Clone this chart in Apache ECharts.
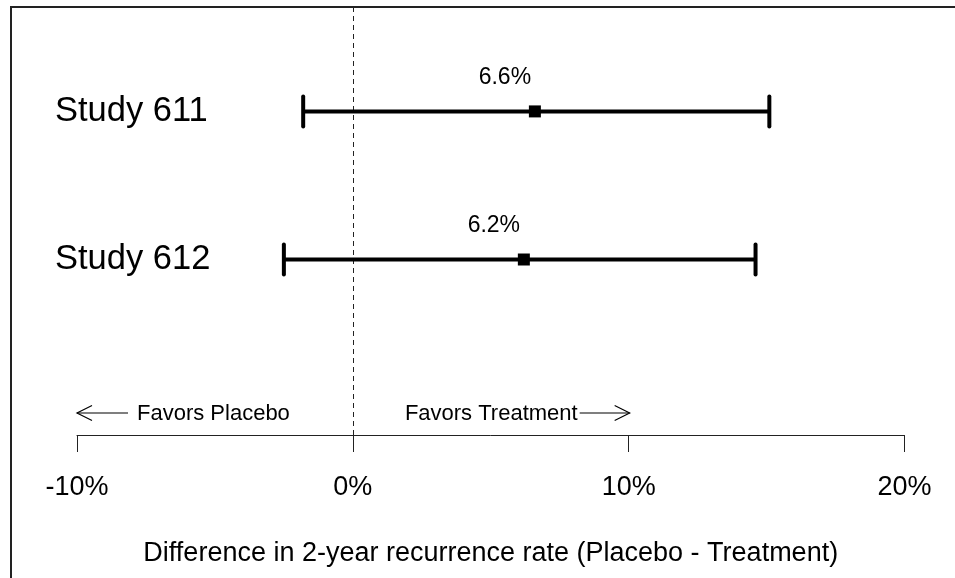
<!DOCTYPE html>
<html>
<head>
<meta charset="utf-8">
<script src="https://cdn.jsdelivr.net/npm/echarts@6/dist/echarts.min.js"></script>
<style>
html,body{margin:0;padding:0;background:#fff;}
#chart{width:955px;height:578px;}
</style>
</head>
<body>
<div id="chart"></div>
<script>
// ---- data ----
const categories = ['Study 611', 'Study 612'];
const rows = [1, 2];
const estimates = [6.6, 6.2];
const lowerCI = [-1.8, -2.5];
const upperCI = [15.1, 14.6];
const xTicks = [-10, 0, 10, 20];
const favorsLeft = 'Favors Placebo';
const favorsRight = 'Favors Treatment';
const axisTitle = 'Difference in 2-year recurrence rate (Placebo - Treatment)';

const FONT = '"Liberation Sans", Arial, sans-serif';
const chart = echarts.init(document.getElementById('chart'), null, {renderer: 'canvas'});

const barData = categories.map((c, i) => [lowerCI[i], estimates[i], upperCI[i], rows[i], c]);

function renderBar(params, api) {
  const lo = api.coord([api.value(0), api.value(3)]);
  const est = api.coord([api.value(1), api.value(3)]);
  const hi = api.coord([api.value(2), api.value(3)]);
  const left = api.coord([xTicks[0], api.value(3)]);
  const y = est[1];
  const cap = 15;
  const lw = 4;
  const label = categories[params.dataIndex];
  const estText = estimates[params.dataIndex].toFixed(1) + '%';
  return {
    type: 'group',
    children: [
      {type: 'line', shape: {x1: lo[0], y1: y, x2: hi[0], y2: y}, style: {stroke: '#000', lineWidth: lw}},
      {type: 'line', shape: {x1: lo[0], y1: y - cap, x2: lo[0], y2: y + cap}, style: {stroke: '#000', lineWidth: lw, lineCap: 'round'}},
      {type: 'line', shape: {x1: hi[0], y1: y - cap, x2: hi[0], y2: y + cap}, style: {stroke: '#000', lineWidth: lw, lineCap: 'round'}},
      {type: 'rect', shape: {x: est[0] - 6, y: y - 6, width: 12, height: 12}, style: {fill: '#000'}},
      {type: 'text', x: est[0] - 30, y: y - 34, style: {text: estText, font: '23px ' + FONT, fill: '#000', align: 'center', verticalAlign: 'middle'}},
      {type: 'text', x: left[0] - 22, y: y, style: {text: label, font: '34.5px ' + FONT, fill: '#000', align: 'left', verticalAlign: 'middle'}}
    ]
  };
}

function renderAnnot(params, api) {
  const cs = params.coordSys;
  const y = cs.y + cs.height - 22;
  const xl = api.coord([xTicks[0], 1])[0];
  const xr = api.coord([xTicks[2], 1])[0] + 1;
  const st = {stroke: '#000', lineWidth: 1.2};
  const ah = 15, aw = 7.5;
  const lTail = xl + 51;
  const rTail = xr - 50;
  return {
    type: 'group',
    children: [
      {type: 'line', shape: {x1: xl, y1: y, x2: lTail, y2: y}, style: st},
      {type: 'polyline', shape: {points: [[xl + ah, y - aw], [xl, y], [xl + ah, y + aw]]}, style: Object.assign({fill: 'none'}, st)},
      {type: 'text', x: lTail + 9, y: y + 1, style: {text: favorsLeft, font: '22px ' + FONT, fill: '#000', align: 'left', verticalAlign: 'middle'}},
      {type: 'line', shape: {x1: rTail, y1: y, x2: xr, y2: y}, style: st},
      {type: 'polyline', shape: {points: [[xr - ah, y - aw], [xr, y], [xr - ah, y + aw]]}, style: Object.assign({fill: 'none'}, st)},
      {type: 'text', x: rTail - 2, y: y + 1, style: {text: favorsRight, font: '22px ' + FONT, fill: '#000', align: 'right', verticalAlign: 'middle'}}
    ]
  };
}

chart.setOption({
  animation: false,
  backgroundColor: '#fff',
  graphic: [{
    type: 'rect', x: 0, y: 0, shape: {x: 11, y: 7, width: 1200, height: 1000},
    style: {fill: 'none', stroke: '#222', lineWidth: 2}, silent: true, z: -1
  }],
  grid: {left: 77, right: 50.5, top: 7, bottom: 143, containLabel: false},
  xAxis: {
    type: 'value', min: xTicks[0], max: xTicks[xTicks.length - 1], interval: 10,
    axisLine: {show: true, lineStyle: {color: '#222', width: 1}},
    axisTick: {show: true, inside: false, length: 17, lineStyle: {color: '#222', width: 1}},
    axisLabel: {formatter: v => v + '%', fontSize: 27, fontFamily: FONT, color: '#000', margin: 39},
    splitLine: {show: false},
    name: axisTitle, nameLocation: 'middle', nameGap: 105,
    nameTextStyle: {fontSize: 27, fontFamily: FONT, color: '#000'}
  },
  yAxis: {
    type: 'value', inverse: true, min: 0.295, max: 3.185, show: false, splitLine: {show: false}
  },
  series: [
    {
      type: 'line', data: [], silent: true,
      markLine: {
        silent: true, symbol: ['none', 'none'], label: {show: false},
        lineStyle: {type: [5, 4], color: '#222', width: 1},
        data: [{xAxis: 0}]
      }
    },
    {type: 'custom', renderItem: renderBar, data: barData, clip: false, z: 5},
    {type: 'custom', renderItem: renderAnnot, data: [[0, 1]], clip: false, z: 5}
  ]
});
</script>
</body>
</html>
